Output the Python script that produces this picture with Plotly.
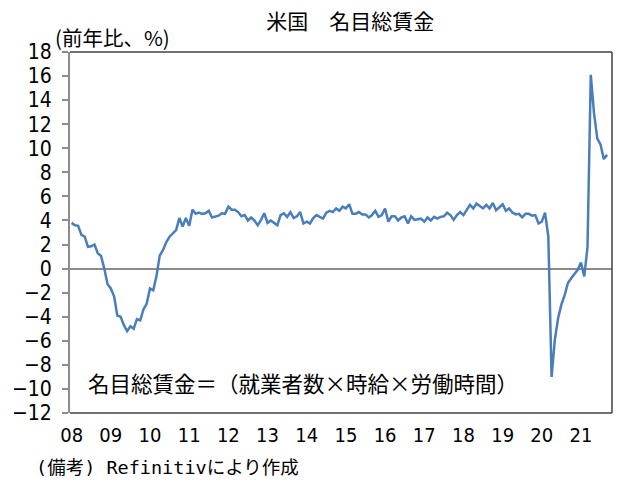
import plotly.graph_objects as go

# Monthly YoY % change in US nominal total wages, Jan 2008 - Sep 2021
y2008 = [3.8, 3.6, 3.55, 2.8, 2.65, 1.8, 1.85, 2.0, 1.27, 1.05, 0.0, -1.3]
y2009 = [-1.65, -2.3, -3.9, -4.0, -4.7, -5.2, -4.8, -5.0, -4.2, -4.3, -3.4, -2.9]
y2010 = [-1.65, -1.8, -0.6, 1.1, 1.55, 2.2, 2.65, 2.9, 3.2, 4.2, 3.5, 4.2]
y2011 = [3.55, 4.9, 4.55, 4.65, 4.55, 4.6, 4.8, 4.25, 4.35, 4.4, 4.6, 4.55]
y2012 = [5.15, 4.9, 4.9, 4.7, 4.35, 4.45, 4.0, 4.25, 4.0, 3.6, 4.05, 4.6]
y2013 = [3.8, 4.0, 3.8, 3.6, 4.45, 4.6, 4.3, 4.7, 4.2, 4.35, 4.7, 3.75]
y2014 = [3.9, 3.75, 4.2, 4.45, 4.3, 4.15, 4.65, 4.8, 4.7, 5.0, 4.8, 5.15]
y2015 = [5.0, 5.35, 4.55, 4.55, 4.7, 4.5, 4.5, 4.25, 4.45, 4.8, 4.3, 4.45]
y2016 = [5.0, 3.9, 4.35, 4.35, 4.0, 4.25, 4.35, 3.75, 4.35, 4.05, 4.1, 4.15]
y2017 = [3.9, 4.25, 4.0, 4.3, 4.15, 4.3, 4.35, 4.65, 4.45, 4.05, 4.45, 4.7]
y2018 = [4.45, 4.9, 5.3, 5.0, 5.4, 5.2, 5.0, 5.3, 5.0, 5.45, 4.85, 5.1]
y2019 = [5.35, 4.8, 5.0, 4.65, 4.5, 4.55, 4.25, 4.55, 4.55, 4.4, 4.45, 3.75]
y2020 = [3.9, 4.65, 2.65, -9.0, -5.9, -4.1, -3.0, -2.2, -1.2, -0.8, -0.4, -0.1]
y2021 = [0.5, -0.65, 1.8, 16.1, 12.9, 10.8, 10.3, 9.1, 9.45]

year_labels = ["08", "09", "10", "11", "12", "13", "14", "15", "16", "17", "18", "19", "20", "21"]
y_ticks = list(range(-12, 19, 2))

values = (y2008 + y2009 + y2010 + y2011 + y2012 + y2013 + y2014 + y2015 +
          y2016 + y2017 + y2018 + y2019 + y2020 + y2021)
months = list(range(len(values)))
n_categories = 166

JP = "Noto Sans CJK JP"
MONO_JP = "DejaVu Sans Mono, Noto Sans CJK JP"
NUM = "Liberation Sans Narrow, DejaVu Sans Condensed, Arial Narrow, sans-serif"

fig = go.Figure()
fig.add_trace(go.Scatter(
    x=months, y=values, mode="lines",
    line=dict(color="#4a7ebb", width=2.5),
    hoverinfo="skip", showlegend=False,
))

fig.update_layout(
    width=630, height=492,
    margin=dict(l=68, r=18, t=52, b=79),
    paper_bgcolor="white", plot_bgcolor="white",
    title=dict(text="米国　名目総賃金", xref="paper", x=0.517, xanchor="center",
               y=0.955, yanchor="middle",
               font=dict(family=JP, size=21, color="black")),
    xaxis=dict(
        range=[-0.5, n_categories - 0.5],
        tickmode="array",
        tickvals=[12 * i for i in range(len(year_labels))],
        ticktext=year_labels,
        showgrid=False, zeroline=False, showline=False,
        ticks="", ticklabelstandoff=8,
        tickfont=dict(family=NUM, size=20, color="black"),
    ),
    yaxis=dict(
        range=[-12, 18],
        tickmode="array", tickvals=y_ticks, ticktext=[str(v).replace("-", "−") for v in y_ticks],
        showgrid=False,
        zeroline=True, zerolinecolor="#8c8c8c", zerolinewidth=2,
        showline=True, linecolor="#8c8c8c", linewidth=2,
        ticks="outside", ticklen=6, tickwidth=1.5, tickcolor="#8c8c8c",
        ticklabelstandoff=6,
        tickfont=dict(family=NUM, size=21, color="black"),
    ),
    shapes=[
        dict(type="line", xref="paper", yref="paper", x0=0, x1=1, y0=1, y1=1,
             line=dict(color="#404040", width=1.5)),
        dict(type="line", xref="paper", yref="paper", x0=1, x1=1, y0=0, y1=1,
             line=dict(color="#404040", width=1.5)),
        dict(type="line", xref="paper", yref="paper", x0=0, x1=1, y0=0, y1=0,
             line=dict(color="#404040", width=1.5)),
    ],
    annotations=[
        dict(text="(前年比、%)", xref="paper", yref="paper", x=-0.031, y=0.995,
             xanchor="left", yanchor="bottom", showarrow=False,
             font=dict(family=JP, size=20.5, color="black")),
        dict(text="名目総賃金＝（就業者数×時給×労働時間）", xref="paper", yref="paper",
             x=0.03, y=0.085, xanchor="left", yanchor="middle", showarrow=False,
             font=dict(family=JP, size=21.5, color="black")),
        dict(text="(備考) Refinitivにより作成", xref="paper", yref="paper",
             x=-0.066, y=-0.15, xanchor="left", yanchor="middle", showarrow=False,
             font=dict(family=MONO_JP, size=18.5, color="black")),
    ],
)

fig.write_html("out.html")
